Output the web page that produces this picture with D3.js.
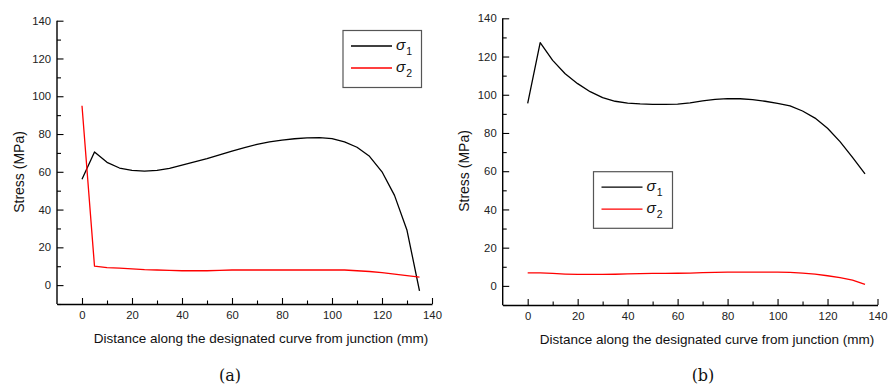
<!DOCTYPE html>
<html>
<head>
<meta charset="utf-8">
<script src="https://cdn.jsdelivr.net/npm/d3@7"></script>
<style>
  body { margin: 0; background: #fff; }
  svg { display: block; font-family: 'Liberation Sans', Arial, sans-serif; }
</style>
</head>
<body>
<div id="chart"></div>
<script>
// distance along curve (mm), sampled every 5 mm
const distances = [0, 5, 10, 15, 20, 25, 30, 35, 40, 45, 50, 55, 60, 65, 70,
  75, 80, 85, 90, 95, 100, 105, 110, 115, 120, 125, 130, 135];

// panel (a)
const sigma1A = [56, 70.5, 65, 62, 60.8, 60.4, 60.8, 61.8, 63.5, 65.2, 67, 69, 71, 72.8, 74.5,
  75.8, 76.8, 77.5, 78, 78.1, 77.6, 75.8, 73, 68.2, 60, 47.5, 29, -3];
const sigma2A = [95, 10, 9.3, 9, 8.6, 8.2, 8, 7.8, 7.6, 7.6, 7.6, 7.8, 8, 8, 8,
  8, 8, 8, 8, 8, 8, 8, 7.6, 7.2, 6.6, 5.8, 5, 4.2];

// panel (b)
const sigma1B = [95.5, 127.3, 118, 111, 105.8, 101.6, 98.5, 96.6, 95.6, 95.2, 95, 95, 95.1, 95.7, 96.8,
  97.6, 98, 97.9, 97.4, 96.6, 95.5, 94.2, 91.5, 87.8, 82.5, 75.5, 67.2, 58.6];
const sigma2B = [6.8, 6.8, 6.5, 6.2, 6, 6, 6, 6.1, 6.3, 6.4, 6.5, 6.5, 6.6, 6.7, 6.9,
  7.1, 7.2, 7.2, 7.2, 7.2, 7.2, 7.1, 6.7, 6.2, 5.3, 4.3, 3, 0.8];

const xMajorTicks = [0, 20, 40, 60, 80, 100, 120, 140];
const xMinorTicks = [10, 30, 50, 70, 90, 110, 130];
const yMajorTicks = [0, 20, 40, 60, 80, 100, 120, 140];
const yMinorTicks = [-10, 10, 30, 50, 70, 90, 110, 130];

const seriesNames = ['1', '2'];
const seriesColors = ['#000000', '#ff0000'];

const xTitle = 'Distance along the designated curve from junction (mm)';
const yTitle = 'Stress (MPa)';

const svg = d3.select('#chart').append('svg')
    .attr('width', 892)
    .attr('height', 385);

svg.append('rect').attr('width', 892).attr('height', 385).attr('fill', '#fff');

function drawPanel(cfg) {
  const scaleX = d3.scaleLinear().domain([-10, 140]).range([cfg.left, cfg.right]);
  const scaleY = d3.scaleLinear().domain([-10, 140]).range([cfg.bottom, cfg.top]);
  const g = svg.append('g');

  // minor ticks (inward, no labels)
  g.append('g')
      .attr('transform', 'translate(0,' + cfg.bottom + ')')
      .call(d3.axisBottom(scaleX).tickValues(xMinorTicks).tickSize(-3.5).tickFormat(''))
      .call((a) => a.select('.domain').remove());
  g.append('g')
      .attr('transform', 'translate(' + cfg.left + ',0)')
      .call(d3.axisLeft(scaleY).tickValues(yMinorTicks).tickSize(-4).tickFormat(''))
      .call((a) => a.select('.domain').remove());

  // major axes
  const xAxis = g.append('g')
      .attr('transform', 'translate(0,' + cfg.bottom + ')')
      .call(d3.axisBottom(scaleX).tickValues(xMajorTicks).tickSize(-6).tickSizeOuter(0).tickPadding(7));
  const yAxis = g.append('g')
      .attr('transform', 'translate(' + cfg.left + ',0)')
      .call(d3.axisLeft(scaleY).tickValues(yMajorTicks).tickSize(-6.5).tickSizeOuter(0).tickPadding(6));
  // y axis only spans up to the 140 tick
  yAxis.select('.domain').attr('d', 'M0,' + cfg.bottom + 'V' + cfg.top);

  [xAxis, yAxis].forEach((a) => {
    a.select('.domain').attr('stroke', '#000').attr('stroke-width', 1.4);
    a.selectAll('.tick text')
        .attr('fill', '#222')
        .style('font-family', "'Liberation Sans', Arial, sans-serif")
        .style('font-size', '11.3px');
  });
  g.selectAll('.tick line').attr('stroke', '#000').attr('stroke-width', 1.1);

  // axis titles
  g.append('text')
      .attr('transform', 'translate(' + cfg.yTitleX + ',' + cfg.yTitleY + ') rotate(-90)')
      .attr('text-anchor', 'middle')
      .attr('dy', '0.35em')
      .style('font-size', '14px')
      .attr('fill', '#111')
      .text(yTitle);
  g.append('text')
      .attr('x', cfg.xTitleX)
      .attr('y', cfg.bottom + 39)
      .attr('text-anchor', 'middle')
      .style('font-size', '13.5px')
      .attr('fill', '#111')
      .text(xTitle);

  // data lines
  const line = d3.line()
      .x((d, i) => scaleX(distances[i]))
      .y((d) => scaleY(d));
  cfg.series.forEach((vals, i) => {
    g.append('path')
        .datum(vals)
        .attr('fill', 'none')
        .attr('stroke', seriesColors[i])
        .attr('stroke-width', 1.3)
        .attr('stroke-linejoin', 'round')
        .attr('d', line);
  });

  // legend
  const lg = g.append('g').attr('transform', 'translate(' + cfg.legend.x + ',' + cfg.legend.y + ')');
  lg.append('rect')
      .attr('width', cfg.legend.w)
      .attr('height', cfg.legend.h)
      .attr('fill', '#fff')
      .attr('stroke', '#555')
      .attr('stroke-width', 1.2);
  seriesNames.forEach((name, i) => {
    const yy = 15.5 + i * 22;
    lg.append('line')
        .attr('x1', 8).attr('x2', 49)
        .attr('y1', yy).attr('y2', yy)
        .attr('stroke', seriesColors[i])
        .attr('stroke-width', 1.3);
    const t = lg.append('text')
        .attr('x', 53)
        .attr('y', yy + 4)
        .attr('fill', '#111')
        .style('font-size', '15.5px');
    t.append('tspan').style('font-style', 'italic').text('σ');
    t.append('tspan').attr('dy', 5).attr('dx', 1).style('font-size', '10.5px').text(name);
  });

  // panel label
  g.append('text')
      .attr('x', cfg.labelX)
      .attr('y', 381)
      .attr('text-anchor', 'middle')
      .style('font-family', "'DejaVu Serif', 'Liberation Serif', serif")
      .style('font-size', '16px')
      .attr('fill', '#111')
      .text(cfg.label);
}

drawPanel({
  left: 57, right: 432, top: 20.7, bottom: 304,
  series: [sigma1A, sigma2A],
  legend: { x: 343, y: 30.5, w: 78.5, h: 57 },
  yTitleX: 19, yTitleY: 172, xTitleX: 261, labelX: 230, label: '(a)'
});

drawPanel({
  left: 502.7, right: 877.5, top: 18.3, bottom: 305,
  series: [sigma1B, sigma2B],
  legend: { x: 593.5, y: 171.7, w: 79, h: 56.6 },
  yTitleX: 464, yTitleY: 171, xTitleX: 707, labelX: 703, label: '(b)'
});
</script>
</body>
</html>
